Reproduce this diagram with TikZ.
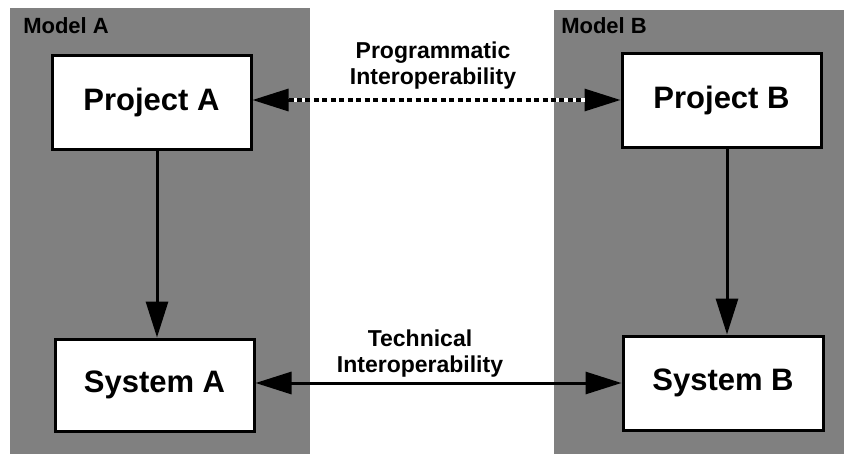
\documentclass[tikz,border=0pt]{standalone}
\usepackage{fontspec}
\setmainfont{Liberation Sans}
\usetikzlibrary{arrows.meta}
\definecolor{panelgray}{RGB}{128,128,128}
\begin{document}
\begin{tikzpicture}[x=0.75pt,y=-0.75pt,
  panel/.style={fill=panelgray,draw=none},
  boxnode/.style={draw=black,fill=white,line width=2.25pt,inner sep=0pt,
    font=\bfseries\fontsize{23.25}{26}\selectfont},
  arr/.style={line width=2.25pt,-{Triangle[length=27pt,width=16.5pt]}},
  darr/.style={line width=2.25pt,{Triangle[length=27pt,width=16.5pt]}-{Triangle[length=27pt,width=16.5pt]}},
  lbl/.style={font=\bfseries\fontsize{17.25}{19.5}\selectfont,align=center,inner sep=0pt},
  mlbl/.style={font=\bfseries\fontsize{16.5}{19}\selectfont,inner sep=0pt,anchor=base west}
]
\useasboundingbox (0,0) rectangle (844,454);
\fill[white] (0,0) rectangle (844,454);
% panels
\path[panel] (10,8) rectangle (310,454);
\path[panel] (554,10) rectangle (844,454);
\node[mlbl] (ma) at (23,33) {Model A};
\node[mlbl] (mb) at (561,33) {Model B};
% boxes
\node[boxnode,minimum width=149.25pt,minimum height=70.5pt] (pa) at (151.5,102) {Project A};
\node[boxnode,minimum width=149.25pt,minimum height=70.5pt] (pb) at (721.5,100) {Project B};
\node[boxnode,minimum width=149.25pt,minimum height=69pt] (sa) at (154.5,385) {System A};
\node[boxnode,minimum width=150pt,minimum height=70.5pt] (sb) at (723,383) {System B};
% helper coordinates
\coordinate (xa) at (157,0);
\coordinate (xb) at (727,0);
\coordinate (yp) at (0,100);
\coordinate (yt) at (0,383);
% vertical arrows
\draw[arr] (pa.south -| xa) -- (sa.north -| xa);
\draw[arr] (pb.south -| xb) -- (sb.north -| xb);
% technical
\draw[darr] (sa.east |- yt) -- (sb.west |- yt);
% programmatic (hatched)
\draw[darr] (pa.east |- yp) -- (pb.west |- yp);
\draw[white,line width=2.6pt,shorten <=27pt,shorten >=27pt] (pa.east |- yp) -- (pb.west |- yp);
\draw[line width=2.6pt,dash pattern=on 3.75pt off 2.6pt,shorten <=27pt,shorten >=27pt] (pa.east |- yp) -- (pb.west |- yp);
% labels
\node[lbl] (lp) at (433,66) {Programmatic\\Interoperability};
\node[lbl] (lt) at (420,354) {Technical\\Interoperability};
\end{tikzpicture}
\end{document}
